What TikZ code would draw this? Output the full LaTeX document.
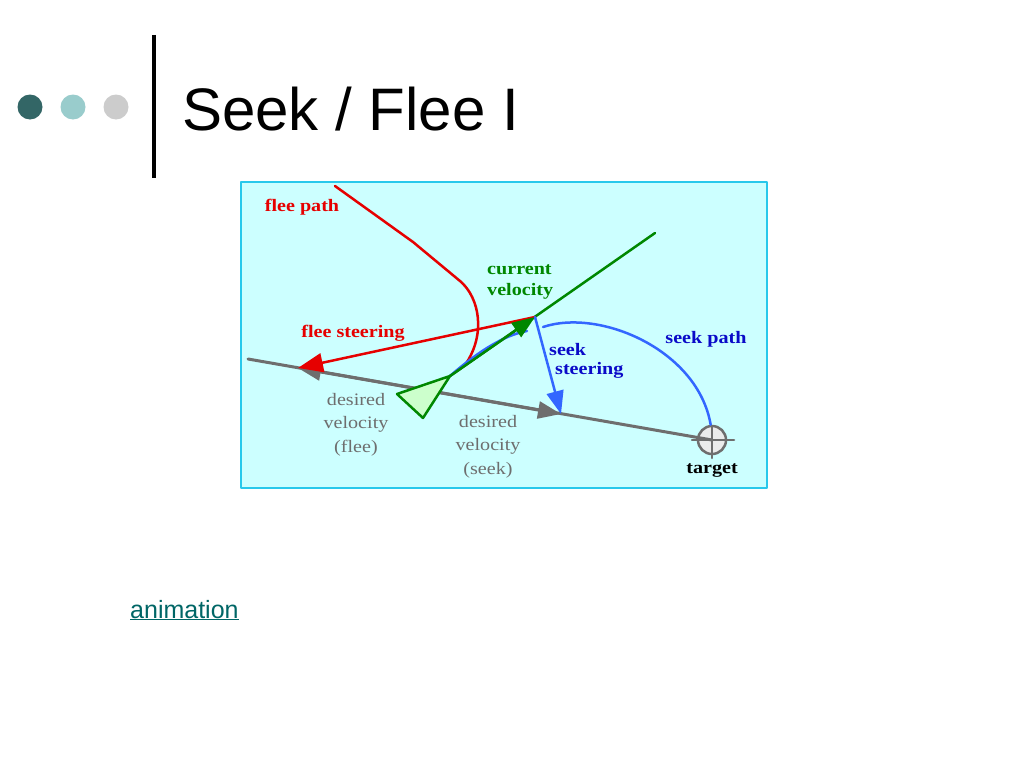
\documentclass[tikz,border=0pt]{standalone}
\usepackage{fontspec}
\setmainfont{Liberation Serif}
\newfontfamily\sansfont{Liberation Sans}
\newfontfamily\lblfont[FakeStretch=1.15]{Liberation Serif}
\usetikzlibrary{arrows.meta}
\definecolor{bgcyan}{RGB}{204,255,255}
\definecolor{rimcyan}{RGB}{40,200,235}
\definecolor{fleered}{RGB}{230,0,0}
\definecolor{velgreen}{RGB}{0,135,0}
\definecolor{bodygreen}{RGB}{204,255,204}
\definecolor{seekblue}{RGB}{51,102,255}
\definecolor{seekdark}{RGB}{10,10,200}
\definecolor{desgrey}{RGB}{110,110,110}
\definecolor{dotdark}{RGB}{51,102,102}
\definecolor{dotlight}{RGB}{153,204,204}
\definecolor{dotgrey}{RGB}{204,204,204}
\definecolor{linkteal}{RGB}{0,102,102}
\begin{document}
\begin{tikzpicture}[x=1pt, y=-1pt, line join=round, line cap=round,
  >={Triangle[length=23pt,width=17pt]},
  fleeline/.style={fleered, line width=2.5pt},
  velline/.style={velgreen, line width=2.5pt},
  seekline/.style={seekblue, line width=2.5pt},
  desline/.style={desgrey, line width=3pt},
  lbl/.style={inner sep=0pt, font=\lblfont\bfseries\fontsize{17.5}{21}\selectfont},
  deslbl/.style={inner sep=0pt, desgrey, align=center, anchor=north,
    font=\lblfont\fontsize{17.5}{23.5}\selectfont}]
\useasboundingbox (0,0) rectangle (1024,768);
\fill[white] (0,0) rectangle (1024,768);
\fill[dotdark] (30,107) circle (12.5);
\fill[dotlight] (73,107) circle (12.5);
\fill[dotgrey] (116,107) circle (12.5);
\draw[line width=4.5pt, line cap=butt] (154,35) -- (154,178);
\node[anchor=base west, inner sep=0pt, font=\sansfont\fontsize{60}{72}\selectfont] (title) at (182,130) {Seek / Flee I};
\draw[rimcyan, fill=bgcyan, line width=2pt] (241,182) rectangle (767,488);
\coordinate (V) at (450,376);
\coordinate (C) at (535,317);
\coordinate (Far) at (655,233);
\coordinate (G0) at (248,359);
\coordinate (Gm) at (430,391);
\coordinate (Fl) at (298,368);
\coordinate (Sk) at (561,414);
\node[circle, draw=desgrey, fill=white!92!black, line width=2.5pt, minimum size=28pt, inner sep=0pt] (target) at (712,440) {};
\draw[fleeline] (335,186) -- (413,242) -- (460,281) .. controls (480,298) and (486,335) .. (465,365);
\draw[desline] (G0) -- (target.center);
\draw[desline,->] (Gm) -- (Fl);
\draw[desline,->] (Gm) -- (Sk);
\draw[velline] (V) -- (Far);
\draw[seekline] (V) .. controls (480,350) and (505,335) .. (527,331);
\draw[seekline] (543,327) .. controls (600,308) and (698,350) .. (target.95);
\draw[fleeline,-{Triangle[length=25pt,width=19pt]}] (C) -- (Fl);
\draw[velline,->] (V) -- (C);
\draw[seekline,->] (C) -- (Sk);
\draw[velgreen, fill=bodygreen, line width=2.5pt] (397,394) -- (423,418) -- (V) -- cycle;
\draw[desgrey, line width=2.5pt] (692,440) -- (734,440) (712,426) -- (712,458);
\node[lbl, fleered] (fleepath) at (302,207) {flee path};
\node[lbl, velgreen, align=left, anchor=north west] (curvel) at (487,264) {current\\velocity};
\node[lbl, fleered] (fleesteer) at (353,333) {flee steering};
\node[lbl, seekdark, align=left, anchor=north west, font=\lblfont\bfseries\fontsize{17.5}{19}\selectfont] (seeksteer) at (549,343) {seek\\\hspace*{6pt}steering};
\node[lbl, seekdark] (seekpath) at (706,339) {seek path};
\node[deslbl] (desflee) at (356,393) {desired\\velocity\\(flee)};
\node[deslbl] (desseek) at (488,415) {desired\\velocity\\(seek)};
\node[lbl, black] (tgtlbl) at (712,470) {target};
\node[anchor=base west, inner sep=0pt, linkteal, font=\sansfont\fontsize{25}{30}\selectfont] (anim) at (130,618) {\underline{animation}};
\end{tikzpicture}
\end{document}
